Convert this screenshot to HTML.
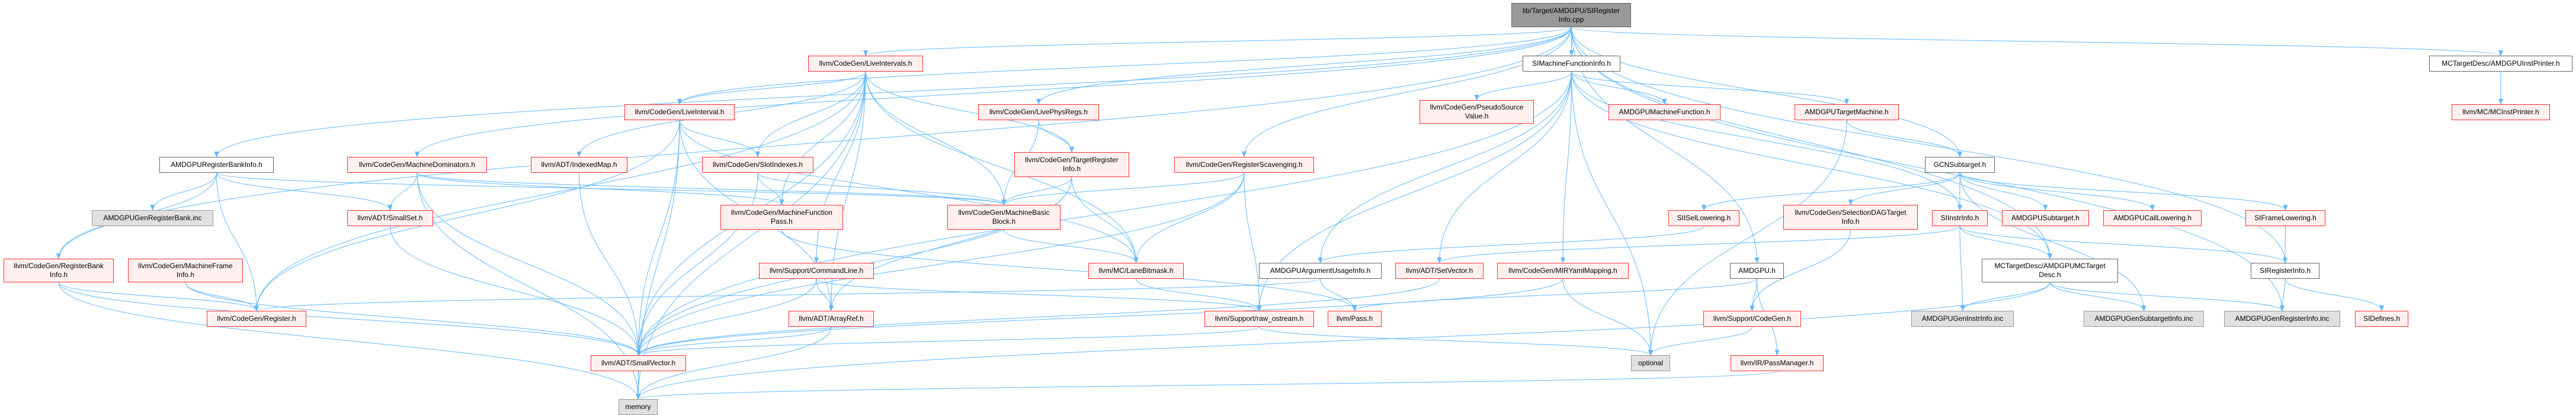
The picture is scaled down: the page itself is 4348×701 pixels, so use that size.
<!DOCTYPE html>
<html><head><meta charset="utf-8">
<style>
body{margin:0;width:4348px;height:701px;background:#fff;overflow:hidden;position:relative;font-family:"Liberation Sans",sans-serif}
svg{position:absolute;left:0;top:0}
.n{position:absolute;box-sizing:border-box;display:flex;flex-direction:column;justify-content:center;align-items:center;font-size:12px;line-height:15px;color:#000;white-space:nowrap;text-align:center}
.r{background:#fff0f0;border:1.5px solid #ff3030}
.g{background:#e0e0e0;border:1.5px solid #999}
.w{background:#fff;border:1.5px solid #666}
.k{background:#999;border:1.5px solid #666}
</style></head><body>
<svg id="s" width="4348" height="701"><defs><marker id="a" markerWidth="10" markerHeight="8" refX="9" refY="4" orient="auto" markerUnits="userSpaceOnUse"><path d="M0,0 L10,4 L0,8 z" fill="#63b8ff"/></marker></defs><g id="e" fill="none" stroke="#63b8ff" stroke-width="1"></g></svg>
<div id="nodes"></div>
<script>
var N={
root:[2551,5,202,41,'k','lib/Target/AMDGPU/SIRegister<br>Info.cpp'],
SIMFI:[2570,94,165,27,'w','SIMachineFunctionInfo.h'],
LIs:[1364,94,194,27,'r','llvm/CodeGen/LiveIntervals.h'],
IP:[4100,94,242,27,'w','MCTargetDesc/AMDGPUInstPrinter.h'],
LI:[1054,176,186,27,'r','llvm/CodeGen/LiveInterval.h'],
LPR:[1651,176,204,27,'r','llvm/CodeGen/LivePhysRegs.h'],
PSV:[2396,169,193,40,'r','llvm/CodeGen/PseudoSource<br>Value.h'],
AMF:[2715,176,189,27,'r','AMDGPUMachineFunction.h'],
ATM:[3029,176,176,27,'r','AMDGPUTargetMachine.h'],
MCIP:[4138,176,166,27,'r','llvm/MC/MCInstPrinter.h'],
ARBI:[269,265,193,27,'w','AMDGPURegisterBankInfo.h'],
MDom:[586,265,236,27,'r','llvm/CodeGen/MachineDominators.h'],
IM:[896,265,163,27,'r','llvm/ADT/IndexedMap.h'],
SI:[1185,265,188,27,'r','llvm/CodeGen/SlotIndexes.h'],
TRI:[1712,257,194,42,'r','llvm/CodeGen/TargetRegister<br>Info.h'],
RS:[1982,265,236,27,'r','llvm/CodeGen/RegisterScavenging.h'],
GCN:[3249,265,118,27,'w','GCNSubtarget.h'],
GRB:[155,355,205,27,'g','AMDGPUGenRegisterBank.inc'],
SS:[586,355,145,27,'r','llvm/ADT/SmallSet.h'],
MFP:[1216,346,207,42,'r','llvm/CodeGen/MachineFunction<br>Pass.h'],
MBB:[1599,346,191,42,'r','llvm/CodeGen/MachineBasic<br>Block.h'],
ISL:[2816,355,120,27,'r','SIISelLowering.h'],
SDAG:[3010,346,227,42,'r','llvm/CodeGen/SelectionDAGTarget<br>Info.h'],
SII:[3261,355,94,27,'r','SIInstrInfo.h'],
ASub:[3379,355,147,27,'r','AMDGPUSubtarget.h'],
ACL:[3550,355,166,27,'r','AMDGPUCallLowering.h'],
SFL:[3790,355,135,27,'r','SIFrameLowering.h'],
RBI:[6,437,186,40,'r','llvm/CodeGen/RegisterBank<br>Info.h'],
MFI:[216,437,194,40,'r','llvm/CodeGen/MachineFrame<br>Info.h'],
CL:[1281,444,194,27,'r','llvm/Support/CommandLine.h'],
LB:[1837,444,161,27,'r','llvm/MC/LaneBitmask.h'],
AUI:[2125,444,207,27,'w','AMDGPUArgumentUsageInfo.h'],
SV:[2355,444,149,27,'r','llvm/ADT/SetVector.h'],
MIR:[2527,444,222,27,'r','llvm/CodeGen/MIRYamlMapping.h'],
AG:[2920,444,91,27,'w','AMDGPU.h'],
MCTD:[3345,437,230,40,'w','MCTargetDesc/AMDGPUMCTarget<br>Desc.h'],
SIRI:[3799,444,116,27,'w','SIRegisterInfo.h'],
Reg:[349,525,168,27,'r','llvm/CodeGen/Register.h'],
AR:[1331,525,144,27,'r','llvm/ADT/ArrayRef.h'],
RO:[2033,525,185,27,'r','llvm/Support/raw_ostream.h'],
Pass:[2241,525,91,27,'r','llvm/Pass.h'],
CG:[2875,525,165,27,'r','llvm/Support/CodeGen.h'],
GII:[3226,525,173,27,'g','AMDGPUGenInstrInfo.inc'],
GSI:[3517,525,203,27,'g','AMDGPUGenSubtargetInfo.inc'],
GRI:[3754,525,196,27,'g','AMDGPUGenRegisterInfo.inc'],
SID:[3975,525,90,27,'r','SIDefines.h'],
SVec:[997,600,161,27,'r','llvm/ADT/SmallVector.h'],
opt:[2753,600,66,27,'g','optional'],
PM:[2921,600,157,27,'r','llvm/IR/PassManager.h'],
mem:[1044,674,66,27,'g','memory']
};
var E={
root:['LIs','SIMFI','ARBI','RBI','MDom','LI','LPR','RS','AG','GCN','MCTD','SIRI','GRI','IP'],
LIs:['LI','SI','MFP','MBB','CL','AR','SVec','LB','TRI','IM','Reg','mem'],
LI:['SI','AR','SVec','LB','Reg','mem'],
SIMFI:['PSV','AMF','ATM','AUI','SV','MIR','opt','RO','SII','MCTD','SVec'],
LPR:['MBB','TRI'],TRI:['MBB','LB','AR','SVec'],RS:['MBB','LB','RO','SVec'],
SI:['MFP','MBB','SVec'],MFP:['Pass'],MBB:['LB'],CL:['AR','SVec','RO'],LB:['RO'],
AR:['SVec','mem'],RO:['SVec','opt'],SVec:['mem'],IM:['SVec'],SS:['SVec'],
MDom:['SS','MBB','MFP','SVec','mem'],ARBI:['GRB','SS','RBI','Reg','MBB'],
RBI:['Reg','SVec','mem'],MFI:['Reg','SVec'],AUI:['Pass','Reg'],SV:['SVec'],MIR:['opt','SVec'],
AG:['CG','PM','Pass'],CG:['opt'],PM:['mem'],ATM:['GCN','opt'],
GCN:['ISL','SDAG','SII','ASub','ACL','SFL','GSI'],SDAG:['CG'],ISL:['AUI'],
SII:['MCTD','SIRI','GII','SV'],MCTD:['GII','GSI','GRI','mem'],SFL:['SIRI'],SIRI:['GRI','SID'],IP:['MCIP']
};
var h='';
for(var k in N){var n=N[k];h+='<div class="n '+n[4]+'" style="left:'+n[0]+'px;top:'+n[1]+'px;width:'+n[2]+'px;height:'+n[3]+'px"><div>'+n[5]+'</div></div>';}
document.getElementById('nodes').innerHTML=h;
var g='';
for(var s in E){E[s].forEach(function(t){var a=N[s],b=N[t];var x1,y1,x2,y2,d;
 if(b[1]>a[1]+a[3]){x1=a[0]+a[2]/2;y1=a[1]+a[3];x2=b[0]+b[2]/2;y2=b[1];
  var m=(y2-y1)*0.5;d='M'+x1+','+y1+' C'+x1+','+(y1+m)+' '+x2+','+(y2-m)+' '+x2+','+y2;}
 else{y1=a[1]+a[3]/2;y2=b[1]+b[3]/2;if(b[0]>a[0]){x1=a[0]+a[2];x2=b[0];}else{x1=a[0];x2=b[0]+b[2];}
  d='M'+x1+','+y1+' C'+((x1+x2)/2)+','+y1+' '+((x1+x2)/2)+','+y2+' '+x2+','+y2;}
 g+='<path d="'+d+'" marker-end="url(#a)"/>';});}
document.getElementById('e').innerHTML=g;
</script>
</body></html>
